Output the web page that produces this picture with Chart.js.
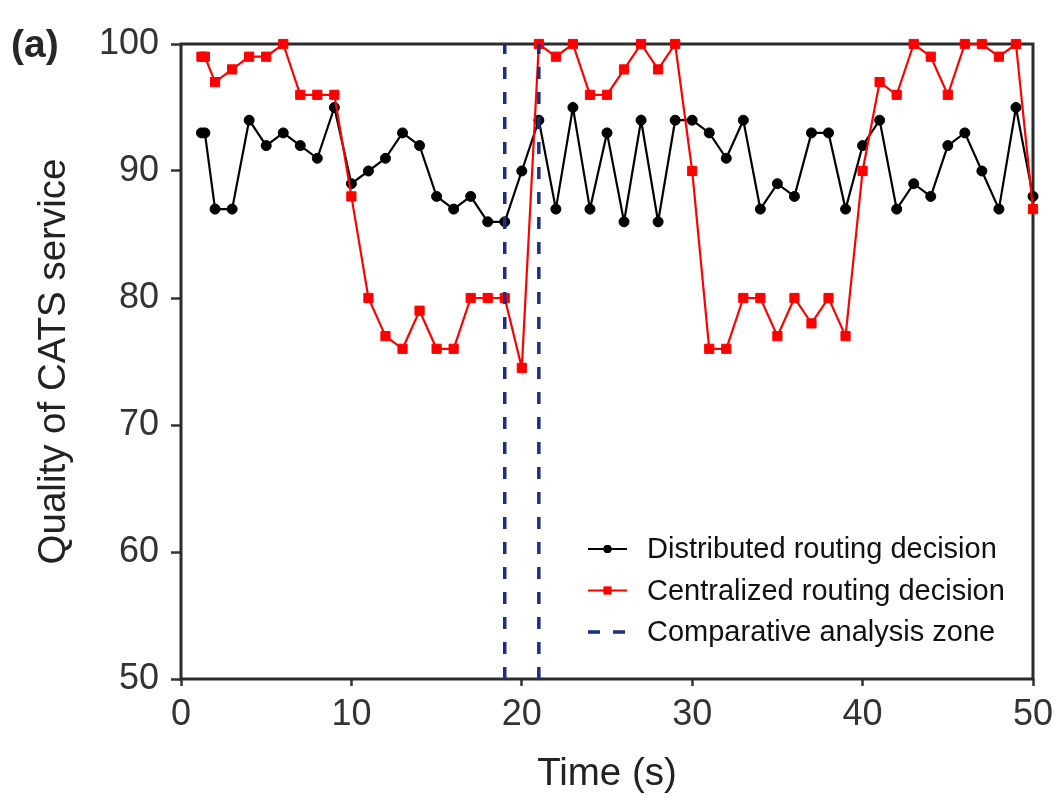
<!DOCTYPE html>
<html>
<head>
<meta charset="utf-8">
<script src="https://cdn.jsdelivr.net/npm/chart.js@4.4.0/dist/chart.umd.min.js"></script>
<style>
  body { margin: 0; background: #fff; }
</style>
</head>
<body>
<canvas id="chartQuality" width="1056" height="798"></canvas>
<script>
// time stamps (s)
const times = [1.2, 1.4, 2, 3, 4, 5, 6, 7, 8, 9, 10, 11, 12, 13, 14, 15, 16, 17, 18, 19, 20,
    21, 22, 23, 24, 25, 26, 27, 28, 29, 30, 31, 32, 33, 34, 35, 36, 37, 38, 39, 40,
    41, 42, 43, 44, 45, 46, 47, 48, 49, 50];

const distributed = [93, 93, 87, 87, 94, 92, 93, 92, 91, 95, 89, 90, 91, 93, 92, 88, 87, 88, 86, 86, 90,
    94, 87, 95, 87, 93, 86, 94, 86, 94, 94, 93, 91, 94, 87, 89, 88, 93, 93, 87, 92,
    94, 87, 89, 88, 92, 93, 90, 87, 95, 88];

const centralized = [99, 99, 97, 98, 99, 99, 100, 96, 96, 96, 88, 80, 77, 76, 79, 76, 76, 80, 80, 80, 74.5,
    100, 99, 100, 96, 96, 98, 100, 98, 100, 90, 76, 76, 80, 80, 77, 80, 78, 80, 77, 90,
    97, 96, 100, 99, 96, 100, 100, 99, 100, 87];

const zoneBounds = [19, 21];

const xTicks = [0, 10, 20, 30, 40, 50];
const yTicks = [50, 60, 70, 80, 90, 100];

const FONT = '"Liberation Sans", Arial, sans-serif';

function toPoints(values) {
    return times.map((t, i) => ({ x: t, y: values[i] }));
}

// zone lines go from bottom to top of the y range
const zoneSets = zoneBounds.map((z, i) => ({
    label: i === 0 ? 'Comparative analysis zone' : '',
    data: [{ x: z, y: yTicks[0] }, { x: z, y: yTicks[yTicks.length - 1] }],
    borderColor: '#1b2d84',
    borderWidth: 3.5,
    borderDash: [12, 13],
    pointRadius: 0,
    order: 1
}));

// frame around the plot area, drawn under the data
const framePlugin = {
    id: 'frame',
    beforeDatasetsDraw(chart) {
        const { ctx, chartArea: a } = chart;
        ctx.save();
        ctx.strokeStyle = '#2b2b2b';
        ctx.lineWidth = 3;
        ctx.strokeRect(a.left, a.top, a.right - a.left, a.bottom - a.top);
        ctx.restore();
    },
    afterDraw(chart) {
        const ctx = chart.ctx;
        ctx.save();
        ctx.fillStyle = '#262626';
        ctx.font = 'bold 39px ' + FONT;
        ctx.textBaseline = 'middle';
        ctx.fillText('(a)', 11, 46);
        ctx.restore();
    }
};

// legend with line + marker samples, like the original figure
const legendPlugin = {
    id: 'lineLegend',
    afterDraw(chart) {
        const ctx = chart.ctx;
        const items = chart.data.datasets.filter(d => d.label);
        const x0 = 588, x1 = 627, textX = 647;
        let y = 549;
        ctx.save();
        items.forEach(d => {
            ctx.strokeStyle = d.borderColor;
            ctx.lineWidth = d.borderDash ? d.borderWidth : 2;
            ctx.setLineDash(d.borderDash || []);
            ctx.beginPath();
            ctx.moveTo(x0, y);
            ctx.lineTo(x1, y);
            ctx.stroke();
            ctx.setLineDash([]);
            if (d.pointRadius > 0) {
                ctx.fillStyle = d.backgroundColor;
                Chart.helpers.drawPoint(ctx, {
                    pointStyle: d.pointStyle,
                    radius: d.pointStyle === 'rect' ? 5.5 : 4,
                    borderWidth: 0
                }, (x0 + x1) / 2, y);
                ctx.fill();
            }
            ctx.fillStyle = '#111';
            ctx.font = '29px ' + FONT;
            ctx.textBaseline = 'middle';
            ctx.fillText(d.label, textX, y + 1);
            y += 41.5;
        });
        ctx.restore();
    }
};

new Chart(document.getElementById('chartQuality'), {
    type: 'line',
    data: {
        datasets: [
            {
                label: 'Distributed routing decision',
                data: toPoints(distributed),
                borderColor: '#000',
                backgroundColor: '#000',
                borderWidth: 2.2,
                pointStyle: 'circle',
                pointRadius: 5,
                pointBorderWidth: 1,
                clip: false,
                order: 3
            },
            {
                label: 'Centralized routing decision',
                data: toPoints(centralized),
                borderColor: '#ff0000',
                backgroundColor: '#ff0000',
                borderWidth: 2.2,
                pointStyle: 'rect',
                pointRadius: 6.5,
                pointBorderWidth: 1,
                clip: false,
                order: 2
            },
            ...zoneSets
        ]
    },
    options: {
        responsive: false,
        animation: false,
        layout: { padding: { top: 44, right: 23, left: 0, bottom: 0 } },
        plugins: { legend: { display: false }, tooltip: { enabled: false } },
        elements: { line: { tension: 0 } },
        scales: {
            x: {
                type: 'linear',
                min: 0,
                max: 50,
                afterBuildTicks: s => { s.ticks = xTicks.map(v => ({ value: v })); },
                afterFit: s => { s.height = 119; s.paddingLeft = 0; s.paddingRight = 0; },
                ticks: { font: { size: 36, family: FONT }, color: '#333', padding: 7, maxRotation: 0, autoSkip: false },
                grid: { drawOnChartArea: false, tickLength: 7, tickColor: '#333', tickWidth: 2.5 },
                border: { display: false },
                title: {
                    display: true,
                    text: 'Time (s)',
                    font: { size: 38.5, family: FONT, lineHeight: 1 },
                    color: '#222',
                    padding: { top: 0, bottom: 4 }
                }
            },
            y: {
                type: 'linear',
                min: 50,
                max: 100,
                afterBuildTicks: s => { s.ticks = yTicks.map(v => ({ value: v })); },
                afterFit: s => { s.width = 181; s.paddingTop = 0; s.paddingBottom = 0; },
                ticks: { font: { size: 36, family: FONT }, color: '#333', padding: 12 },
                grid: { drawOnChartArea: false, tickLength: 10, tickColor: '#333', tickWidth: 2.5 },
                border: { display: false },
                title: {
                    display: true,
                    text: 'Quality of CATS service',
                    font: { size: 38.5, family: FONT, lineHeight: 1 },
                    color: '#222',
                    padding: { top: 35, bottom: 0 }
                }
            }
        }
    },
    plugins: [framePlugin, legendPlugin]
});
</script>
</body>
</html>
